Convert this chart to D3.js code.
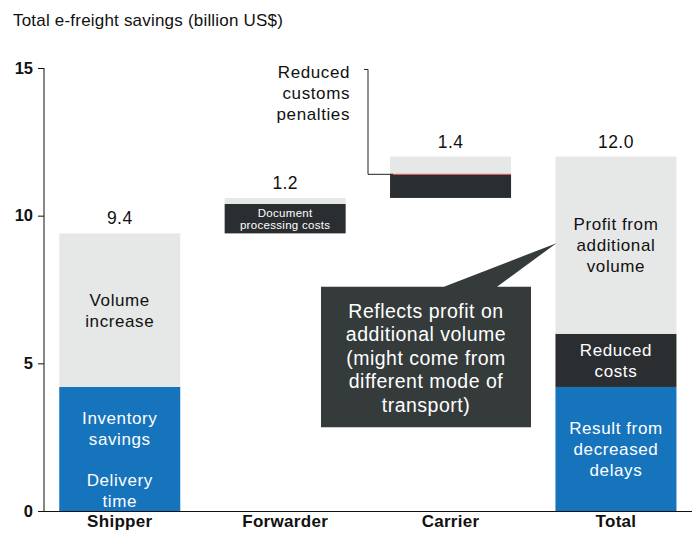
<!DOCTYPE html>
<html>
<head>
<meta charset="utf-8">
<script src="https://cdn.jsdelivr.net/npm/d3@7"></script>
<style>
  body { margin: 0; background: #fff; }
  text { font-family: "Liberation Sans", Arial, sans-serif; }
</style>
</head>
<body>
<script>
// chart values
var categories = ["Shipper", "Forwarder", "Carrier", "Total"];
var bases = [0, 9.4, 10.6, 0];
var blueVals = [4.2, 0, 0, 4.2];
var darkVals = [0, 1.0, 0.8, 1.8];
var greyVals = [5.2, 0.2, 0.6, 6.0];
var totalLabels = ["9.4", "1.2", "1.4", "12.0"];
var yTicks = [0, 5, 10, 15];

// text inside the bars: category, value at centre, lines
var segLabels = [
  {cat: "Shipper", v: 6.8, lines: ["Volume", "increase"], fill: "#111", size: 17},
  {cat: "Shipper", v: 2.8, lines: ["Inventory", "savings"], fill: "#fff", size: 17},
  {cat: "Shipper", v: 0.7, lines: ["Delivery", "time"], fill: "#fff", size: 17},
  {cat: "Forwarder", v: 9.9, lines: ["Document", "processing costs"], fill: "#fff", size: 11.5},
  {cat: "Total", v: 9.0, lines: ["Profit from", "additional", "volume"], fill: "#111", size: 17},
  {cat: "Total", v: 5.1, lines: ["Reduced", "costs"], fill: "#fff", size: 17},
  {cat: "Total", v: 2.1, lines: ["Result from", "decreased", "delays"], fill: "#fff", size: 17}
];

var calloutLines = ["Reflects profit on", "additional volume", "(might come from", "different mode of", "transport)"];
var customsLines = ["Reduced", "customs", "penalties"];

var colors = {blue: "#1674bc", dark: "#2b2e31", grey: "#e6e7e7", box: "#353b3b", red: "#d9534f"};

var width = 696, height = 534;

var svg = d3.select("body").append("svg")
    .attr("width", width)
    .attr("height", height);

var x = d3.scaleBand()
    .domain(categories)
    .range([44, 691.7])
    .paddingInner(0.2684)
    .paddingOuter(0.0922);

var y = d3.scaleLinear()
    .domain([0, 15])
    .range([511, 68]);

// title
svg.append("text")
    .attr("x", 13)
    .attr("y", 26)
    .attr("font-size", 17)
    .attr("letter-spacing", 0.2)
    .attr("fill", "#111")
    .text("Total e-freight savings (billion US$)");

// build segments
var segs = [];
categories.forEach(function(c, i) {
  var b = bases[i];
  [["blue", blueVals[i]], ["dark", darkVals[i]], ["grey", greyVals[i]]].forEach(function(s) {
    if (s[1] > 0) {
      segs.push({cat: c, y0: b, y1: b + s[1], color: colors[s[0]]});
      b += s[1];
    }
  });
});

svg.append("g").selectAll("rect")
  .data(segs).enter().append("rect")
    .attr("x", function(d) { return x(d.cat); })
    .attr("width", x.bandwidth())
    .attr("y", function(d) { return y(d.y1); })
    .attr("height", function(d) { return y(d.y0) - y(d.y1); })
    .attr("fill", function(d) { return d.color; });

// red separator on carrier bar + leader to label
var carrierIdx = categories.indexOf("Carrier");
var redV = bases[carrierIdx] + darkVals[carrierIdx];
svg.append("line")
    .attr("x1", x("Carrier")).attr("x2", x("Carrier") + x.bandwidth())
    .attr("y1", y(redV)).attr("y2", y(redV))
    .attr("stroke", colors.red).attr("stroke-width", 1);
svg.append("path")
    .attr("d", "M364," + y(14.95) + "H368V" + y(redV) + "H" + (x("Carrier") + 3))
    .attr("fill", "none")
    .attr("stroke", "#222")
    .attr("stroke-width", 1);
svg.append("text")
    .attr("text-anchor", "end")
    .attr("font-size", 17)
    .attr("letter-spacing", 0.6)
    .attr("fill", "#111")
  .selectAll("tspan").data(customsLines).enter().append("tspan")
    .attr("x", 350)
    .attr("y", function(d, i) { return 78 + i * 21; })
    .text(function(d) { return d; });

// total labels
svg.append("g").selectAll("text")
  .data(categories).enter().append("text")
    .attr("x", function(d) { return x(d) + x.bandwidth() / 2; })
    .attr("y", function(d, i) { return y(bases[i] + blueVals[i] + darkVals[i] + greyVals[i]) - 9; })
    .attr("text-anchor", "middle")
    .attr("font-size", 17.5)
    .attr("letter-spacing", 0.4)
    .attr("fill", "#111")
    .text(function(d, i) { return totalLabels[i]; });

// segment labels
var sl = svg.append("g").selectAll("text")
  .data(segLabels).enter().append("text")
    .attr("text-anchor", "middle")
    .attr("font-size", function(d) { return d.size; })
    .attr("letter-spacing", function(d) { return d.size > 12 ? 0.6 : 0.3; })
    .attr("fill", function(d) { return d.fill; });
sl.selectAll("tspan")
  .data(function(d) {
    var lh = d.size > 12 ? 21 : 12.5;
    var top = y(d.v) - (d.lines.length - 1) * lh / 2 + d.size * 0.36;
    return d.lines.map(function(t, i) { return {t: t, x: x(d.cat) + x.bandwidth() / 2, y: top + i * lh}; });
  })
  .enter().append("tspan")
    .attr("x", function(d) { return d.x; })
    .attr("y", function(d) { return d.y; })
    .text(function(d) { return d.t; });

// callout box with pointer
var bx0 = 321, bx1 = 531, by0 = y(7.59), by1 = y(2.84);
var tip = [x("Total") + 1, y(9.07)];
svg.append("path")
    .attr("d", "M" + bx0 + "," + by0 + "H444L" + tip[0] + "," + tip[1] + "L497," + by0 + "H" + bx1 + "V" + by1 + "H" + bx0 + "Z")
    .attr("fill", colors.box);
svg.append("text")
    .attr("text-anchor", "middle")
    .attr("font-size", 19.5)
    .attr("letter-spacing", 0.5)
    .attr("fill", "#fff")
  .selectAll("tspan").data(calloutLines).enter().append("tspan")
    .attr("x", (bx0 + bx1) / 2)
    .attr("y", function(d, i) { return by0 + 31 + i * 23.5; })
    .text(function(d) { return d; });

// y axis
var yAxis = svg.append("g")
    .attr("transform", "translate(44,0)")
    .call(d3.axisLeft(y).tickValues(yTicks).tickSize(6).tickPadding(5));
yAxis.select(".domain").attr("stroke", "#111").attr("d", "M0," + y(15) + "V" + y(0));
yAxis.selectAll(".tick line").attr("stroke", "#111");
yAxis.selectAll("text")
    .attr("font-size", 16.5)
    .attr("font-weight", "bold")
    .attr("fill", "#111")
    .style("font-family", "'Liberation Sans', Arial, sans-serif");

// x axis
var xAxis = svg.append("g")
    .attr("transform", "translate(0," + y(0) + ")")
    .call(d3.axisBottom(x).tickSize(0).tickPadding(4));
xAxis.select(".domain").attr("stroke", "#111").attr("d", "M38,0.5H692");
xAxis.selectAll("text")
    .attr("font-size", 17)
    .attr("font-weight", "bold")
    .attr("letter-spacing", 0.3)
    .attr("fill", "#111")
    .style("font-family", "'Liberation Sans', Arial, sans-serif");
</script>
</body>
</html>
